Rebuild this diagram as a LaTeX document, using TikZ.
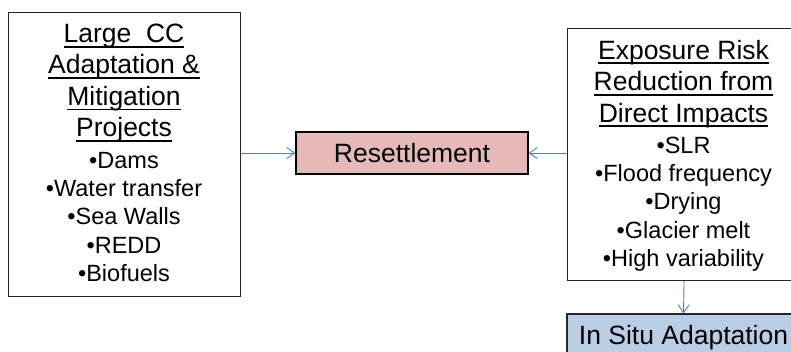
\documentclass[tikz,border=0pt]{standalone}
\usepackage{fontspec}
\setmainfont{Liberation Sans}
\usetikzlibrary{arrows.meta}
\definecolor{arrowblue}{HTML}{4A7EBB}
\definecolor{pinkfill}{HTML}{E6B9B8}
\definecolor{bluefill}{HTML}{B9CDE5}
\newcommand{\myul}[1]{\setbox0\hbox{#1}\rlap{\rule[-0.185em]{\wd0}{0.07em}}\box0}
\tikzset{
  hdr/.style={anchor=base, inner sep=0pt, font=\fontsize{26.5}{30}\selectfont},
  itm/.style={anchor=base, inner sep=0pt, font=\fontsize{23.5}{28}\selectfont},
  frame/.style={draw=black!85, line width=1.1pt, inner sep=0pt},
  conn/.style={draw=arrowblue, line width=0.9pt, -{Straight Barb[length=8pt,width=11pt]}},
}
\begin{document}
\begin{tikzpicture}[x=1pt,y=-1pt]
\path[use as bounding box, clip] (0,0) rectangle (791,352);
\fill[white] (0,0) rectangle (791,352);
% left box
\node[frame, anchor=north west, minimum width=232pt, minimum height=284pt] (proj) at (8,12) {};
\node[hdr] (p1) at (124,42.7) {\myul{Large\ \ CC}};
\node[hdr] (p2) at (124,74) {\myul{Adaptation \&}};
\node[hdr] (p3) at (124,105.5) {\myul{Mitigation}};
\node[hdr] (p4) at (124,136.7) {\myul{Projects}};
\node[itm] (p5) at (124,168.3) {•Dams};
\node[itm] (p6) at (124,196.7) {•Water transfer};
\node[itm] (p7) at (124,225) {•Sea Walls};
\node[itm] (p8) at (124,253.3) {•REDD};
\node[itm] (p9) at (124,281.7) {•Biofuels};
% right box
\node[frame, anchor=north west, minimum width=233pt, minimum height=252pt] (expo) at (567,28) {};
\node[hdr] (e1) at (683.5,59.3) {\myul{Exposure Risk}};
\node[hdr] (e2) at (683.5,90.7) {\myul{Reduction from}};
\node[hdr] (e3) at (683.5,122.2) {\myul{Direct Impacts}};
\node[itm] (e4) at (683.5,153.3) {•SLR};
\node[itm] (e5) at (683.5,181.7) {•Flood frequency};
\node[itm] (e6) at (683.5,210) {•Drying};
\node[itm] (e7) at (683.5,238.3) {•Glacier melt};
\node[itm] (e8) at (683.5,266.7) {•High variability};
% resettlement
\node[draw=black, line width=1.1pt, fill=pinkfill, anchor=base, inner sep=0pt,
      minimum width=232pt, text height=30.7pt, text depth=11.3pt,
      font=\fontsize{26.5}{30}\selectfont] (reset) at (412,162.7) {Resettlement};
% in situ
\node[draw=black!85, line width=1.1pt, fill=bluefill, anchor=base, inner sep=0pt,
      minimum width=233pt, text height=30pt, text depth=30pt,
      font=\fontsize{26.5}{30}\selectfont] (situ) at (683.5,344) {In Situ Adaptation};
% connectors
\draw[conn] (reset.west -| proj.east) -- (reset.west);
\draw[conn] (reset.east -| expo.west) -- (reset.east);
\draw[conn] (expo.south) -- (situ.north);
\end{tikzpicture}
\end{document}
